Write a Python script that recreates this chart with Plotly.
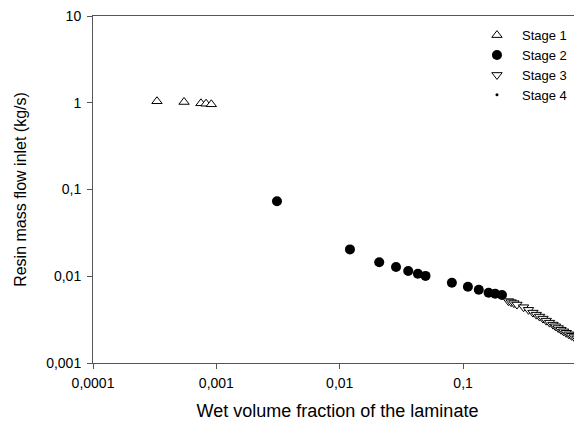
import plotly.graph_objects as go
import numpy as np

# Stage 1 (open up-triangles)
stage1_x = [3.30e-4, 5.47e-4, 7.5e-4, 8.25e-4, 9.1e-4]
stage1_y = [1.04, 1.02, 0.985, 0.975, 0.96]

# Stage 2 (filled circles)
stage2_x = [3.1e-3, 0.0121, 0.0209, 0.0286, 0.0359, 0.0430, 0.0496,
            0.0811, 0.1094, 0.134, 0.161, 0.182, 0.2066]
stage2_y = [0.0733, 0.0204, 0.0145, 0.0128, 0.0115, 0.0107, 0.0101,
            0.00843, 0.00757, 0.0070, 0.00645, 0.00628, 0.00607]

# Stage 3 (open down-triangles)
stage3_x = [0.233, 0.245, 0.258, 0.273, 0.309, 0.339, 0.368, 0.392, 0.417,
            0.444, 0.472, 0.502, 0.535, 0.561, 0.590, 0.621, 0.652, 0.686,
            0.721, 0.757, 0.796, 0.838]
stage3_y = [0.00517, 0.00503, 0.00490, 0.00472, 0.00440, 0.00410, 0.00381,
            0.00361, 0.00343, 0.00325, 0.00308, 0.00292, 0.00277, 0.00265,
            0.00253, 0.00242, 0.00232, 0.00223, 0.00214, 0.00206, 0.00199,
            0.00192]

# Stage 4 (small dots)
stage4_x = [0.88, 0.95]
stage4_y = [0.00180, 0.00172]

x_ticks = [0.0001, 0.001, 0.01, 0.1]
x_labels = ["0,0001", "0,001", "0,01", "0,1"]
y_ticks = [0.001, 0.01, 0.1, 1, 10]
y_labels = ["0,001", "0,01", "0,1", "1", "10"]

fig = go.Figure()

fig.add_trace(go.Scatter(
    x=stage1_x, y=stage1_y, mode='markers', name='Stage 1',
    marker=dict(symbol='triangle-up', size=9, color='white',
                line=dict(color='black', width=1))
))
fig.add_trace(go.Scatter(
    x=stage2_x, y=stage2_y, mode='markers', name='Stage 2',
    marker=dict(symbol='circle', size=10, color='black',
                line=dict(color='black', width=0))
))
fig.add_trace(go.Scatter(
    x=stage3_x, y=stage3_y, mode='markers', name='Stage 3',
    marker=dict(symbol='triangle-down', size=9, color='white',
                line=dict(color='black', width=1))
))
fig.add_trace(go.Scatter(
    x=stage4_x, y=stage4_y, mode='markers', name='Stage 4',
    marker=dict(symbol='circle', size=3, color='black')
))

axis_font = dict(family='Liberation Sans, Arial, sans-serif', size=14, color='black')

# the page has an 8px body margin, so the figure is sized/margined to compensate
fig.update_layout(
    width=574, height=413,
    margin=dict(l=85, r=0, t=7, b=56),
    paper_bgcolor='white', plot_bgcolor='white',
    font=axis_font,
    legend=dict(x=0.775, y=0.988, xanchor='left', yanchor='top',
                bgcolor='rgba(0,0,0,0)', font=dict(size=13),
                tracegroupgap=0, itemsizing='trace', itemwidth=40),
    showlegend=True
)

fig.update_xaxes(
    type='log', range=[-4, np.log10(0.92)],
    tickvals=x_ticks, ticktext=x_labels,
    ticks='outside', ticklen=5, tickcolor='#555', ticklabelstandoff=2,
    showline=True, linecolor='#555', linewidth=1, mirror=True,
    showgrid=False, zeroline=False,
    title=dict(text='Wet volume fraction of the laminate', font=dict(size=18), standoff=18)
)
fig.update_yaxes(
    type='log', range=[-3, 1],
    tickvals=y_ticks, ticktext=y_labels,
    ticks='outside', ticklen=5, tickcolor='#555', ticklabelstandoff=3,
    ticklabeloverflow='allow',
    showline=True, linecolor='#555', linewidth=1,
    showgrid=False, zeroline=False,
    title=dict(text='Resin mass flow inlet (kg/s)', font=dict(size=16), standoff=15)
)

fig.write_html("out.html")
